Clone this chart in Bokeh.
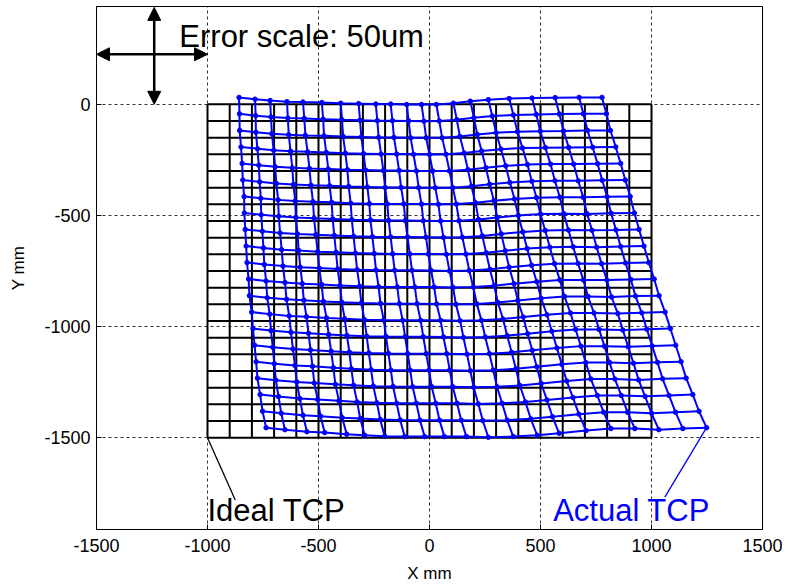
import numpy as np
from bokeh.plotting import figure
from bokeh.models import Range1d, FixedTicker, Arrow, NormalHead, Label, PrintfTickFormatter
from bokeh.embed import file_html
from bokeh.resources import INLINE

# ---------------- data ----------------
X_TICKS = [-1500, -1000, -500, 0, 500, 1000, 1500]
Y_TICKS = [-1500, -1000, -500, 0]

# ideal TCP grid (mm)
IDEAL_X = [-1000, -900, -800, -700, -600, -500, -400, -300, -200, -100, 0,
           100, 200, 300, 400, 500, 600, 700, 800, 900, 1000]
IDEAL_Y = [0, -75, -150, -225, -300, -375, -450, -525, -600, -675, -750,
           -825, -900, -975, -1050, -1125, -1200, -1275, -1350, -1425, -1500]

# actual TCP (error magnified), x of each grid column, listed top row -> bottom row
ACT_X_COLS = [
    [-858, -856, -855, -849, -844, -841, -835, -834, -830, -826, -822, -815, -811, -801, -795, -788, -781, -775, -763, -752, -736],
    [-786, -783, -782, -775, -769, -765, -760, -758, -753, -748, -744, -736, -731, -720, -714, -706, -699, -692, -680, -668, -651],
    [-718, -714, -710, -702, -695, -690, -682, -679, -673, -666, -660, -651, -644, -632, -624, -615, -606, -598, -584, -570, -552],
    [-642, -638, -634, -626, -618, -613, -605, -602, -595, -589, -582, -573, -566, -554, -545, -536, -527, -519, -504, -491, -472],
    [-570, -564, -559, -549, -541, -534, -525, -520, -512, -504, -497, -486, -478, -464, -454, -443, -433, -424, -408, -393, -373],
    [-485, -479, -475, -465, -456, -450, -441, -436, -429, -421, -414, -403, -395, -382, -372, -361, -352, -342, -326, -312, -292],
    [-400, -394, -389, -379, -370, -364, -355, -350, -342, -334, -326, -315, -307, -293, -283, -273, -263, -253, -237, -222, -202],
    [-319, -313, -307, -297, -288, -280, -271, -266, -257, -249, -241, -229, -221, -206, -196, -185, -174, -164, -148, -132, -112],
    [-242, -235, -229, -218, -208, -200, -190, -184, -175, -166, -157, -145, -136, -121, -110, -98, -87, -76, -59, -43, -22],
    [-175, -167, -160, -148, -137, -128, -116, -109, -99, -89, -79, -66, -56, -40, -28, -15, -2, 10, 28, 45, 67],
    [-103, -94, -85, -72, -59, -49, -36, -28, -16, -5, 7, 21, 32, 50, 63, 78, 91, 105, 124, 143, 166],
    [-36, -25, -15, 0, 14, 26, 40, 50, 63, 76, 90, 106, 119, 138, 153, 169, 184, 199, 220, 240, 265],
    [31, 44, 57, 74, 90, 105, 121, 133, 148, 164, 179, 197, 213, 234, 251, 270, 287, 304, 327, 350, 377],
    [108, 123, 137, 156, 173, 189, 207, 221, 238, 255, 272, 291, 308, 331, 350, 370, 389, 407, 432, 456, 485],
    [184, 200, 215, 235, 254, 271, 290, 305, 323, 341, 359, 380, 398, 422, 442, 463, 483, 503, 529, 554, 584],
    [265, 283, 300, 322, 343, 362, 383, 400, 420, 440, 460, 483, 503, 529, 551, 574, 596, 618, 646, 673, 705],
    [359, 378, 396, 419, 441, 461, 482, 500, 521, 542, 563, 587, 608, 635, 658, 682, 704, 727, 756, 784, 817],
    [462, 481, 499, 522, 545, 565, 587, 605, 626, 647, 669, 693, 714, 741, 764, 788, 811, 835, 864, 892, 925],
    [566, 585, 604, 627, 649, 670, 692, 710, 732, 753, 775, 799, 820, 848, 871, 895, 919, 942, 971, 1000, 1033],
    [674, 693, 712, 735, 757, 778, 800, 818, 840, 861, 883, 907, 928, 956, 979, 1003, 1027, 1050, 1079, 1108, 1141],
    [777, 797, 815, 839, 861, 882, 904, 923, 944, 966, 988, 1012, 1034, 1061, 1085, 1109, 1133, 1156, 1186, 1214, 1248],
]

# actual TCP, y of each grid row, listed left column -> right column
ACT_Y_ROWS = [
    [31, 23, 17, 12, 10, 8, 5, 3, 1, 1, -1, -1, -1, 5, 14, 21, 26, 28, 30, 31, 31],
    [-43, -51, -57, -62, -64, -67, -70, -72, -74, -74, -75, -76, -75, -69, -60, -53, -48, -46, -44, -43, -43],
    [-118, -126, -132, -137, -140, -142, -145, -147, -149, -149, -151, -151, -151, -145, -136, -128, -123, -121, -120, -118, -118],
    [-192, -200, -207, -211, -214, -217, -220, -222, -224, -224, -225, -226, -225, -219, -210, -202, -197, -195, -194, -193, -192],
    [-266, -274, -281, -286, -289, -291, -294, -296, -298, -298, -300, -300, -300, -294, -285, -277, -271, -269, -269, -267, -266],
    [-341, -349, -356, -361, -364, -367, -370, -372, -374, -374, -375, -376, -375, -369, -360, -352, -346, -344, -344, -342, -341],
    [-415, -423, -430, -435, -438, -441, -445, -447, -448, -448, -449, -450, -449, -443, -434, -426, -420, -418, -418, -416, -415],
    [-489, -497, -504, -509, -513, -516, -519, -521, -523, -523, -524, -525, -524, -518, -509, -500, -494, -492, -493, -490, -489],
    [-563, -571, -579, -583, -587, -590, -594, -596, -597, -597, -598, -599, -598, -592, -583, -574, -568, -566, -567, -565, -563],
    [-638, -646, -654, -658, -663, -666, -669, -671, -673, -673, -674, -675, -674, -668, -659, -649, -643, -641, -643, -640, -638],
    [-712, -721, -728, -733, -737, -741, -744, -746, -747, -747, -748, -750, -748, -742, -733, -724, -717, -716, -717, -714, -712],
    [-786, -795, -802, -807, -811, -815, -819, -821, -822, -822, -822, -824, -822, -816, -807, -798, -790, -790, -791, -788, -786],
    [-861, -870, -877, -882, -887, -891, -894, -896, -897, -897, -898, -900, -898, -892, -883, -873, -865, -865, -867, -863, -861],
    [-935, -944, -952, -956, -961, -965, -969, -971, -972, -972, -972, -974, -972, -966, -957, -947, -939, -939, -941, -938, -935],
    [-1009, -1018, -1026, -1030, -1036, -1040, -1043, -1045, -1046, -1046, -1047, -1049, -1047, -1041, -1032, -1021, -1013, -1013, -1016, -1012, -1009],
    [-1084, -1093, -1101, -1105, -1111, -1115, -1119, -1121, -1122, -1122, -1122, -1124, -1122, -1116, -1107, -1096, -1088, -1088, -1091, -1087, -1084],
    [-1158, -1167, -1175, -1179, -1185, -1190, -1194, -1196, -1196, -1196, -1196, -1199, -1196, -1190, -1181, -1170, -1162, -1162, -1165, -1161, -1158],
    [-1232, -1241, -1249, -1254, -1260, -1264, -1268, -1270, -1271, -1271, -1271, -1273, -1271, -1265, -1256, -1245, -1236, -1236, -1240, -1235, -1232],
    [-1306, -1315, -1324, -1328, -1334, -1339, -1343, -1345, -1345, -1345, -1345, -1348, -1345, -1339, -1330, -1319, -1310, -1310, -1314, -1310, -1306],
    [-1381, -1390, -1399, -1403, -1410, -1414, -1418, -1420, -1421, -1421, -1421, -1423, -1421, -1415, -1406, -1394, -1385, -1385, -1390, -1385, -1381],
    [-1455, -1464, -1473, -1477, -1484, -1489, -1493, -1495, -1495, -1495, -1495, -1498, -1495, -1489, -1480, -1468, -1459, -1459, -1464, -1459, -1455],
]

# error-scale cross (plot units)
ERR_H_X = [-1500, -1000]
ERR_H_Y = 225
ERR_V_X = -1240
ERR_V_Y = [0, 436]

IDEAL_LEADER_END = (-875, -1780)
ACTUAL_LEADER_END = (1060, -1767)

# ---------------- figure ----------------
FONT = "Liberation Sans"
BLUE = "#0000ff"

p = figure(width=789, height=585, output_backend="svg", toolbar_location=None,
           x_range=Range1d(-1500, 1500), y_range=Range1d(-1913, 440),
           min_border_left=96, min_border_right=27, min_border_top=6,
           min_border_bottom=55)
p.background_fill_color = "white"
p.border_fill_color = "white"
p.outline_line_color = "black"
p.outline_line_width = 1

for ax in (p.xaxis[0], p.yaxis[0]):
    ax.major_label_text_font = FONT
    ax.major_label_text_font_size = "18px"
    ax.major_label_text_color = "black"
    ax.axis_label_text_font = FONT
    ax.axis_label_text_font_size = "17px"
    ax.axis_label_text_font_style = "normal"
    ax.axis_label_text_color = "black"
    ax.axis_line_color = "black"
    ax.major_tick_in = 5
    ax.major_tick_out = 0
    ax.major_tick_line_color = "black"
    ax.minor_tick_line_color = None
    ax.formatter = PrintfTickFormatter(format="%d")

p.xaxis.ticker = FixedTicker(ticks=X_TICKS)
p.yaxis.ticker = FixedTicker(ticks=Y_TICKS)
p.xaxis.axis_label = "X mm"
p.yaxis.axis_label = "Y mm"
p.xaxis.major_label_standoff = 9
p.xaxis.axis_label_standoff = 9
p.yaxis.major_label_standoff = 6
p.yaxis.axis_label_standoff = 13

p.xgrid.ticker = FixedTicker(ticks=X_TICKS)
p.ygrid.ticker = FixedTicker(ticks=Y_TICKS)
for g in (p.xgrid[0], p.ygrid[0]):
    g.grid_line_color = "#333333"
    g.grid_line_dash = "3 3"
    g.grid_line_width = 1

# ideal grid
n = len(IDEAL_X)
m = len(IDEAL_Y)
p.segment(x0=IDEAL_X, y0=[IDEAL_Y[0]] * n, x1=IDEAL_X, y1=[IDEAL_Y[-1]] * n,
          line_color="black", line_width=2)
p.segment(x0=[IDEAL_X[0]] * m, y0=IDEAL_Y, x1=[IDEAL_X[-1]] * m, y1=IDEAL_Y,
          line_color="black", line_width=2)

# actual grid
AX = np.array(ACT_X_COLS, dtype=float).T   # [row][col]
AY = np.array(ACT_Y_ROWS, dtype=float)     # [row][col]
xs = [AX[:, j].tolist() for j in range(AX.shape[1])] + [AX[i, :].tolist() for i in range(AX.shape[0])]
ys = [AY[:, j].tolist() for j in range(AY.shape[1])] + [AY[i, :].tolist() for i in range(AY.shape[0])]
p.multi_line(xs, ys, line_color=BLUE, line_width=2)
p.scatter(AX.ravel(), AY.ravel(), size=4.5, color=BLUE, marker="circle")

# leader lines
p.line([IDEAL_X[0], IDEAL_LEADER_END[0]], [IDEAL_Y[-1], IDEAL_LEADER_END[1]],
       line_color="black", line_width=1.3)
p.line([AX[-1, -1], ACTUAL_LEADER_END[0]], [AY[-1, -1], ACTUAL_LEADER_END[1]],
       line_color=BLUE, line_width=1.3)

# error scale arrows
def head():
    return NormalHead(size=13, fill_color="black", line_color="black", line_width=1)

p.add_layout(Arrow(start=head(), end=head(), x_start=ERR_H_X[0], y_start=ERR_H_Y,
                   x_end=ERR_H_X[1], y_end=ERR_H_Y, line_color="black", line_width=2.5))
p.add_layout(Arrow(start=head(), end=head(), x_start=ERR_V_X, y_start=ERR_V_Y[0],
                   x_end=ERR_V_X, y_end=ERR_V_Y[1], line_color="black", line_width=2.5))

p.add_layout(Label(x=-1127, y=305, text="Error scale: 50um", text_font=FONT,
                   text_font_size="31px", text_color="black",
                   text_baseline="alphabetic", text_align="left"))
p.add_layout(Label(x=-1000, y=-1828, text="Ideal TCP", text_font=FONT,
                   text_font_size="31px", text_color="black",
                   text_baseline="alphabetic", text_align="left"))
p.add_layout(Label(x=557, y=-1828, text="Actual TCP", text_font=FONT,
                   text_font_size="31px", text_color=BLUE,
                   text_baseline="alphabetic", text_align="left"))

open("out.html", "w").write(file_html(p, INLINE))
